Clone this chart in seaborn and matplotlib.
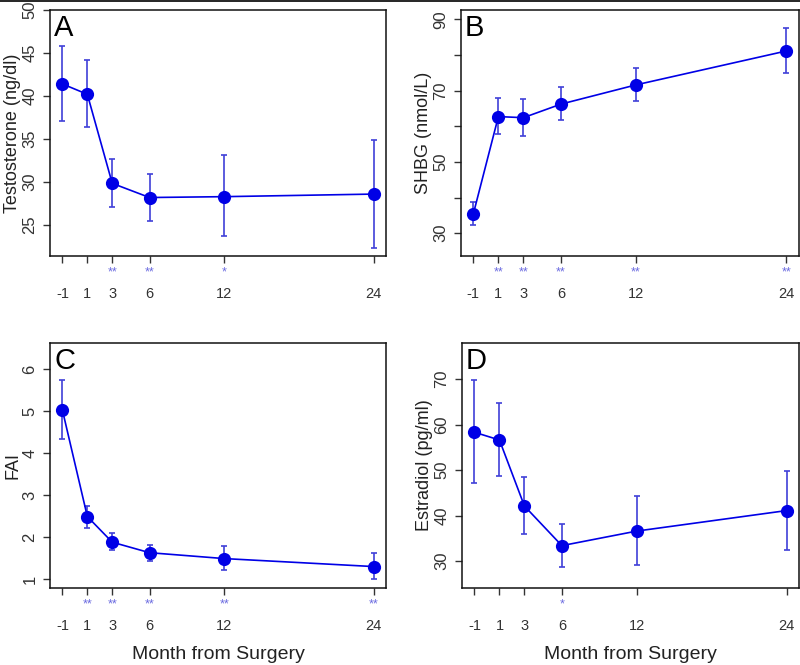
"""
Hormone levels after surgery: 2x2 panel of mean +/- error over months.
"""
import numpy as np
import pandas as pd
import matplotlib
matplotlib.use("Agg")
import matplotlib.pyplot as plt
from matplotlib.lines import Line2D
import seaborn as sns

sns.set_style("white")
plt.rcParams["font.family"] = ["Liberation Sans", "DejaVu Sans"]

MONTHS = [-1, 1, 3, 6, 12, 24]

TESTO_MEAN = [41.4, 40.2, 29.85, 28.2, 28.3, 28.6]
TESTO_LO = [37.1, 36.4, 27.1, 25.5, 23.7, 22.3]
TESTO_HI = [45.8, 44.2, 32.7, 30.9, 33.1, 34.9]
TESTO_STARS = ["", "", "**", "**", "*", ""]

SHBG_MEAN = [35.4, 62.7, 62.4, 66.2, 71.6, 81.1]
SHBG_LO = [32.2, 57.7, 57.3, 61.7, 67.0, 74.9]
SHBG_HI = [38.8, 68.0, 67.5, 71.1, 76.4, 87.6]
SHBG_STARS = ["", "**", "**", "**", "**", "**"]

FAI_MEAN = [5.02, 2.49, 1.88, 1.63, 1.49, 1.30]
FAI_LO = [4.33, 2.22, 1.69, 1.44, 1.21, 1.00]
FAI_HI = [5.75, 2.75, 2.09, 1.81, 1.78, 1.63]
FAI_STARS = ["", "**", "**", "**", "**", "**"]

E2_MEAN = [58.3, 56.6, 42.1, 33.4, 36.6, 41.1]
E2_LO = [47.1, 48.8, 36.0, 28.7, 29.1, 32.5]
E2_HI = [69.7, 64.7, 48.5, 38.2, 44.2, 49.8]
E2_STARS = ["", "", "", "*", "", ""]

PANELS = [
    # letter, ylabel, mean, lo, hi, stars, ylim, yticks, labelled ticks, axes rect
    ("A", "Testosterone (ng/dl)", TESTO_MEAN, TESTO_LO, TESTO_HI, TESTO_STARS,
     (21.4, 50), [25, 30, 35, 40, 45, 50], None, [0.0625, 0.615, 0.42, 0.370]),
    ("B", "SHBG (nmol/L)", SHBG_MEAN, SHBG_LO, SHBG_HI, SHBG_STARS,
     (23.6, 92.6), [30, 40, 50, 60, 70, 80, 90], [30, 50, 70, 90], [0.576, 0.615, 0.4225, 0.370]),
    ("C", "FAI", FAI_MEAN, FAI_LO, FAI_HI, FAI_STARS,
     (0.79, 6.62), [1, 2, 3, 4, 5, 6], None, [0.0625, 0.1158, 0.42, 0.3684]),
    ("D", "Estradiol (pg/ml)", E2_MEAN, E2_LO, E2_HI, E2_STARS,
     (24.1, 77.9), [30, 40, 50, 60, 70], None, [0.5775, 0.1158, 0.4213, 0.3684]),
]

BLUE = "#0000e6"
BAR_BLUE = "#4040d8"
STAR_BLUE = "#6a6ae0"
TICK_GREY = "#333333"

fig = plt.figure(figsize=(8, 6.65), dpi=100)

for i, (letter, ylabel, mean, lo, hi, stars, ylim, yticks, shown, rect) in enumerate(PANELS):
    ax = fig.add_axes(rect)
    df = pd.DataFrame({"month": MONTHS, "value": mean})
    mean_arr = np.array(mean)
    yerr = [mean_arr - np.array(lo), np.array(hi) - mean_arr]
    ax.errorbar(MONTHS, mean, yerr=yerr, fmt="none", ecolor=BAR_BLUE,
                elinewidth=1.2, capsize=2.3, capthick=1.2, zorder=2)
    sns.lineplot(data=df, x="month", y="value", ax=ax, color=BLUE, lw=1.2,
                 marker="o", markersize=9.5, markeredgewidth=0,
                 markerfacecolor=BLUE, zorder=3)

    ax.set_xlim(-2.0, 25.0)
    ax.set_ylim(*ylim)
    ax.set_yticks(yticks)
    if shown is None:
        ax.set_yticklabels([str(t) for t in yticks])
    else:
        ax.set_yticklabels([str(t) if t in shown else "" for t in yticks])
    ax.set_xticks(MONTHS)
    ax.set_xticklabels([str(m) for m in MONTHS])

    for s in ax.spines.values():
        s.set_visible(True)
        s.set_color("#111111")
        s.set_linewidth(1.1)

    ax.tick_params(axis="y", direction="out", length=5, width=1, color="#333333",
                   left=True, labelsize=12, labelcolor=TICK_GREY, pad=4)
    for t in ax.get_yticklabels():
        t.set_rotation(90)
        t.set_va("center")
    ax.tick_params(axis="x", direction="out", length=5, width=1, color="#333333",
                   bottom=True, labelsize=10.5, labelcolor=TICK_GREY, pad=17)

    for m, st in zip(MONTHS, stars):
        if st:
            ax.annotate(st, xy=(m, 0), xycoords=("data", "axes fraction"),
                        xytext=(0, -12), textcoords="offset points",
                        ha="center", va="center", fontsize=9, color=STAR_BLUE)

    ax.set_xlabel("Month from Surgery" if i >= 2 else "", fontsize=14,
                  color="#222222", labelpad=10)
    ax.set_ylabel(ylabel, fontsize=13, color="#222222", labelpad=1)
    ax.text(0.012, 0.985, letter, transform=ax.transAxes, ha="left", va="top",
            fontsize=21, color="black")

# thin rule across the top of the figure
fig.add_artist(Line2D([0, 1], [0.999, 0.999], transform=fig.transFigure,
                      color="black", lw=1.2))

fig.savefig("out.png", dpi=100)
plt.close(fig)
